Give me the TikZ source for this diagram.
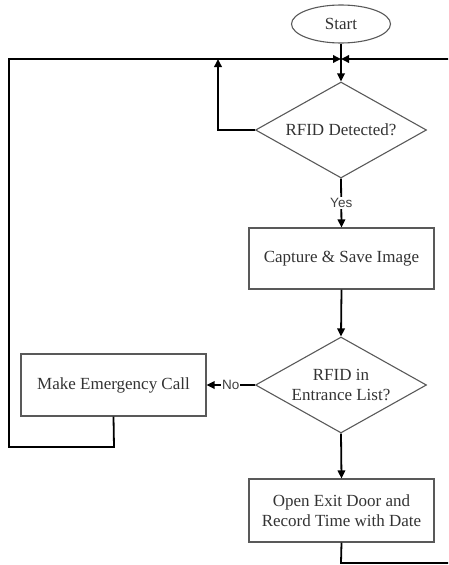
\documentclass[tikz,border=0pt]{standalone}
\usepackage{fontspec}
\setmainfont{Liberation Serif}
\setsansfont{Liberation Sans}
\usetikzlibrary{shapes.geometric,arrows.meta}

\begin{document}
\begin{tikzpicture}[x=1pt,y=-1pt,
  txt/.style={font=\fontsize{17}{20}\selectfont, text=black!80, align=center},
  outline/.style={draw=black!65, line width=1.1pt},
  procbox/.style={txt, outline, rectangle, minimum width=185pt, inner sep=0pt},
  decision/.style={txt, outline, diamond, aspect=1.78, minimum width=171pt, minimum height=96pt, inner sep=0pt},
  terminal/.style={txt, outline, ellipse, minimum width=99pt, minimum height=38pt, inner sep=0pt},
  flow/.style={line width=1.8pt, black},
  arrowflow/.style={flow, -{Triangle[length=8pt,width=7.5pt]}},
  branch/.style={font=\sffamily\fontsize{13.5}{15}\selectfont, text=black!75, fill=white, inner sep=1pt}
]
\useasboundingbox (0,0) rectangle (448,565);
\clip (0,0) rectangle (448,565);

% nodes
\node[terminal] (start) at (341,24) {Start};
\node[decision] (det) at (341,130) {RFID Detected?};
\node[procbox, minimum height=61pt] (cap) at (341.5,258.5) {Capture \& Save Image};
\node[decision] (list) at (341,385) {RFID in\\Entrance List?};
\node[procbox, minimum height=62pt] (emg) at (113.5,385) {Make Emergency Call};
\node[procbox, minimum height=63pt] (door) at (341.5,510.5) {Open Exit Door and\\Record Time with Date};

% junction points of the return loops
\coordinate (join) at (341,59);
\coordinate (loopA) at (218,59);
\coordinate (emgDown) at (114,447);
\coordinate (emgLeft) at (9,447);
\coordinate (topLeft) at (9,59);
\coordinate (doorDown) at (341,563);
\coordinate (doorRight) at (451,563);
\coordinate (topRight) at (451,59);

% main flow
\draw[flow] (start.south) -- (join);
\draw[arrowflow] (join) -- (det.north);
\draw[arrowflow] (det.south) -- node[branch] {Yes} (cap.north);
\draw[arrowflow] (cap.south) -- (list.north);
\draw[arrowflow] (list.west) -- node[branch] {No} (emg.east);
\draw[arrowflow] (list.south) -- (door.north);

% return loops
\draw[arrowflow] (det.west) -| (loopA);
\draw[arrowflow] (emg.south) -- (emgDown) -- (emgLeft) -- (topLeft) -- (join);
\draw[arrowflow] (door.south) -- (doorDown) -- (doorRight) -- (topRight) -- (join);
\end{tikzpicture}
\end{document}
